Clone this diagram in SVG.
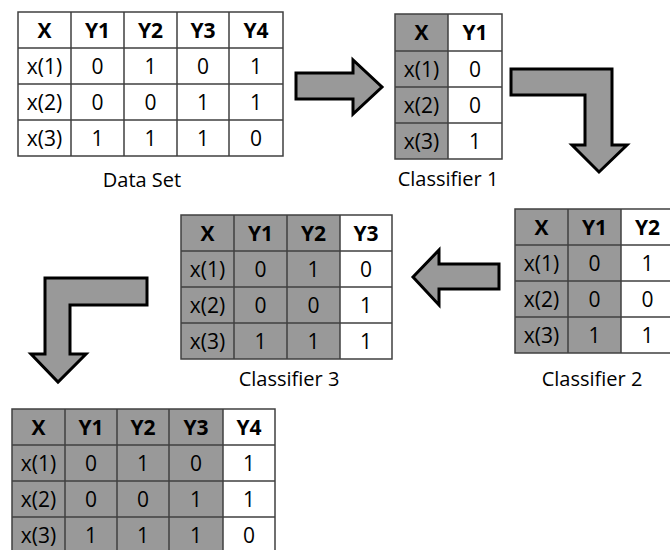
<svg xmlns="http://www.w3.org/2000/svg" width="670" height="550" viewBox="0 0 670 550">
<style>
.g{fill:#999999}
.w{fill:#ffffff}
.grid{stroke:#404040;stroke-width:1.5;fill:none}
.h{font-family:"Open Sans","Liberation Sans",sans-serif;font-size:21px;font-weight:bold;text-anchor:middle;fill:#000}
.c{font-family:"Open Sans","Liberation Sans",sans-serif;font-size:21px;text-anchor:middle;fill:#000}
.lbl{font-family:"Open Sans","Liberation Sans",sans-serif;font-size:20px;text-anchor:middle;fill:#000}
.arr{fill:#999999;stroke:#000;stroke-width:3;stroke-linejoin:miter}
</style>
<rect width="670" height="550" fill="#fff"/>

<g id="dataset">
<rect x="18" y="12" width="265" height="144" class="w"/>
<path class="grid" d="M18,12H283V156H18Z M71,12V156 M124,12V156 M177,12V156 M229,12V156 M18,48H283 M18,84H283 M18,120H283"/>
<text class="h" x="44.5" y="37.5">X</text><text class="h" x="97.5" y="37.5">Y1</text><text class="h" x="150.5" y="37.5">Y2</text><text class="h" x="203" y="37.5">Y3</text><text class="h" x="256" y="37.5">Y4</text>
<text class="c" x="44.5" y="73.5">x(1)</text><text class="c" x="97.5" y="73.5">0</text><text class="c" x="150.5" y="73.5">1</text><text class="c" x="203" y="73.5">0</text><text class="c" x="256" y="73.5">1</text>
<text class="c" x="44.5" y="109.5">x(2)</text><text class="c" x="97.5" y="109.5">0</text><text class="c" x="150.5" y="109.5">0</text><text class="c" x="203" y="109.5">1</text><text class="c" x="256" y="109.5">1</text>
<text class="c" x="44.5" y="145.5">x(3)</text><text class="c" x="97.5" y="145.5">1</text><text class="c" x="150.5" y="145.5">1</text><text class="c" x="203" y="145.5">1</text><text class="c" x="256" y="145.5">0</text>
<text class="lbl" x="142" y="187">Data Set</text>
</g>

<g id="classifier1">
<rect x="395" y="14" width="53" height="145" class="g"/>
<rect x="448" y="14" width="54" height="145" class="w"/>
<path class="grid" d="M395,14H502V159H395Z M448,14V159 M395,51H502 M395,87H502 M395,123H502"/>
<text class="h" x="421.5" y="40">X</text><text class="h" x="475" y="40">Y1</text>
<text class="c" x="421.5" y="76.5">x(1)</text><text class="c" x="475" y="76.5">0</text>
<text class="c" x="421.5" y="112.5">x(2)</text><text class="c" x="475" y="112.5">0</text>
<text class="c" x="421.5" y="148.5">x(3)</text><text class="c" x="475" y="148.5">1</text>
<text class="lbl" x="448" y="186">Classifier 1</text>
</g>

<g id="classifier2">
<rect x="515" y="209" width="106" height="144" class="g"/>
<rect x="621" y="209" width="53" height="144" class="w"/>
<path class="grid" d="M515,209H674V353H515Z M568,209V353 M621,209V353 M515,245H674 M515,281H674 M515,317H674"/>
<text class="h" x="541.5" y="234.5">X</text><text class="h" x="594.5" y="234.5">Y1</text><text class="h" x="647.5" y="234.5">Y2</text>
<text class="c" x="541.5" y="270.5">x(1)</text><text class="c" x="594.5" y="270.5">0</text><text class="c" x="647.5" y="270.5">1</text>
<text class="c" x="541.5" y="306.5">x(2)</text><text class="c" x="594.5" y="306.5">0</text><text class="c" x="647.5" y="306.5">0</text>
<text class="c" x="541.5" y="342.5">x(3)</text><text class="c" x="594.5" y="342.5">1</text><text class="c" x="647.5" y="342.5">1</text>
<text class="lbl" x="592" y="386">Classifier 2</text>
</g>

<g id="classifier3">
<rect x="181" y="215" width="159" height="144" class="g"/>
<rect x="340" y="215" width="52" height="144" class="w"/>
<path class="grid" d="M181,215H392V359H181Z M234,215V359 M287,215V359 M340,215V359 M181,251H392 M181,287H392 M181,323H392"/>
<text class="h" x="207.5" y="240.5">X</text><text class="h" x="260.5" y="240.5">Y1</text><text class="h" x="313.5" y="240.5">Y2</text><text class="h" x="366" y="240.5">Y3</text>
<text class="c" x="207.5" y="276.5">x(1)</text><text class="c" x="260.5" y="276.5">0</text><text class="c" x="313.5" y="276.5">1</text><text class="c" x="366" y="276.5">0</text>
<text class="c" x="207.5" y="312.5">x(2)</text><text class="c" x="260.5" y="312.5">0</text><text class="c" x="313.5" y="312.5">0</text><text class="c" x="366" y="312.5">1</text>
<text class="c" x="207.5" y="348.5">x(3)</text><text class="c" x="260.5" y="348.5">1</text><text class="c" x="313.5" y="348.5">1</text><text class="c" x="366" y="348.5">1</text>
<text class="lbl" x="289" y="386">Classifier 3</text>
</g>

<g id="classifier4">
<rect x="12" y="409" width="211" height="144" class="g"/>
<rect x="223" y="409" width="52" height="144" class="w"/>
<path class="grid" d="M12,409H275V553H12Z M65,409V553 M117,409V553 M169,409V553 M223,409V553 M12,445H275 M12,481H275 M12,517H275"/>
<text class="h" x="38.5" y="434.5">X</text><text class="h" x="91" y="434.5">Y1</text><text class="h" x="143" y="434.5">Y2</text><text class="h" x="196" y="434.5">Y3</text><text class="h" x="249" y="434.5">Y4</text>
<text class="c" x="38.5" y="470.5">x(1)</text><text class="c" x="91" y="470.5">0</text><text class="c" x="143" y="470.5">1</text><text class="c" x="196" y="470.5">0</text><text class="c" x="249" y="470.5">1</text>
<text class="c" x="38.5" y="506.5">x(2)</text><text class="c" x="91" y="506.5">0</text><text class="c" x="143" y="506.5">0</text><text class="c" x="196" y="506.5">1</text><text class="c" x="249" y="506.5">1</text>
<text class="c" x="38.5" y="542.5">x(3)</text><text class="c" x="91" y="542.5">1</text><text class="c" x="143" y="542.5">1</text><text class="c" x="196" y="542.5">1</text><text class="c" x="249" y="542.5">0</text>
</g>

<g id="connectors">
<polygon class="arr" points="296,73 353,73 353,60 382,87 353,114 353,99 296,99"/>
<polygon class="arr" points="511,69 612,69 612,145 627,145 599,172 572,145 585,145 585,95 511,95"/>
<polygon class="arr" points="499,264 439,264 439,250 413,277 439,305 439,289 499,289"/>
<polygon class="arr" points="147,278 45,278 45,354 31,354 58,382 86,354 70,354 70,305 147,305"/>
</g>
</svg>
